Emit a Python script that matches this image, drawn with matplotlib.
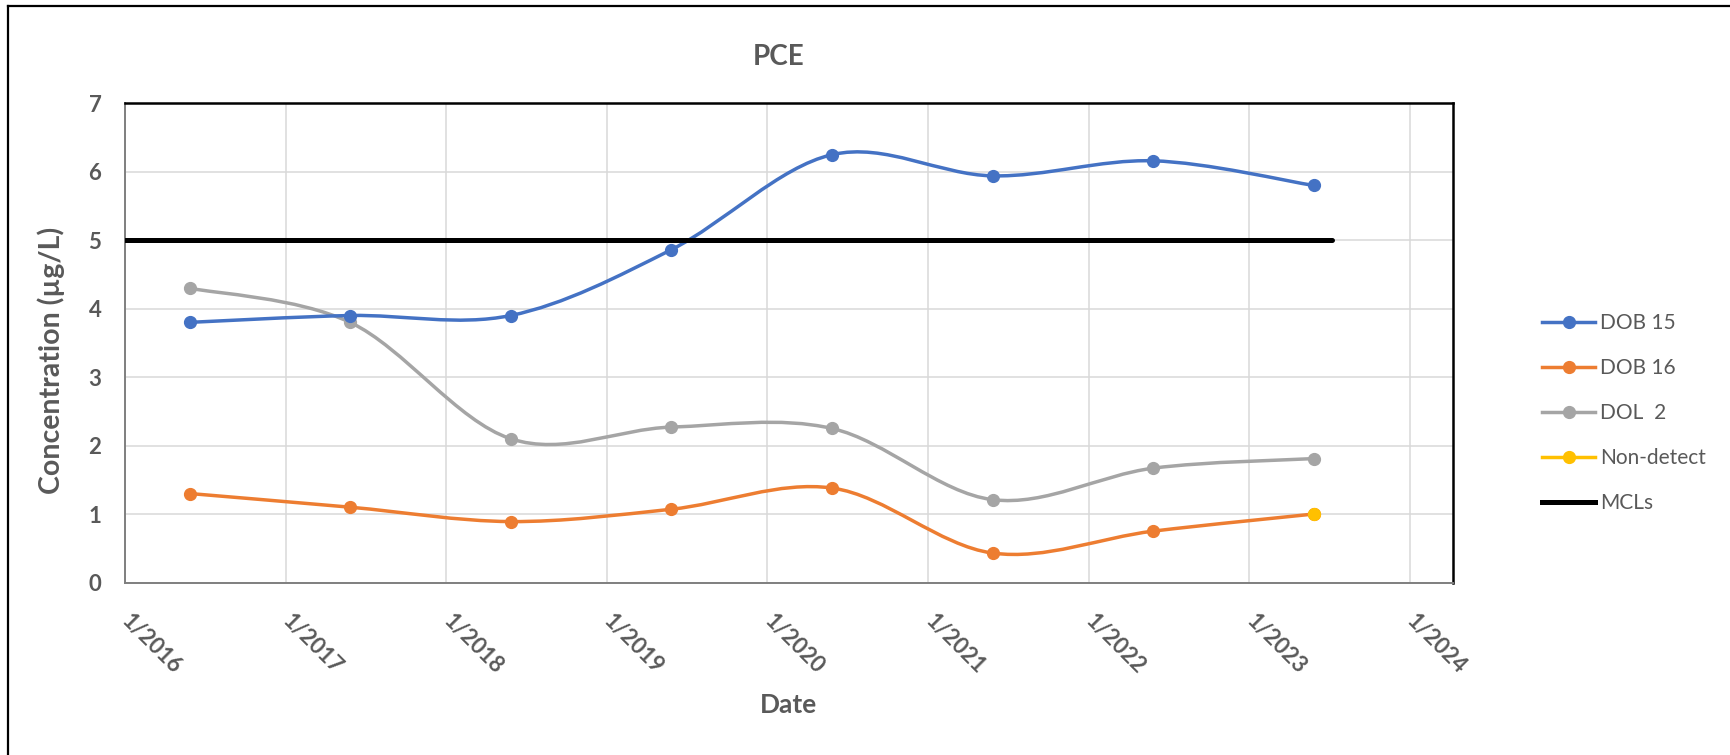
import matplotlib
matplotlib.use("Agg")
import matplotlib.pyplot as plt
import matplotlib.dates as mdates
from matplotlib.path import Path
from matplotlib.patches import PathPatch
from matplotlib.lines import Line2D
import numpy as np
import datetime as dt

# ---------------- data ----------------
sample_dates = ["2016-05-27", "2017-05-27", "2018-05-27", "2019-05-27",
                "2020-05-27", "2021-05-27", "2022-05-27", "2023-05-27"]
dob15 = [3.8, 3.9, 3.9, 4.86, 6.25, 5.94, 6.16, 5.8]
dob16 = [1.3, 1.1, 0.89, 1.07, 1.38, 0.43, 0.75, 1.0]
dol2 = [4.3, 3.8, 2.1, 2.27, 2.25, 1.21, 1.67, 1.81]
nondetect_dates = ["2023-05-27"]
nondetect = [1.0]
mcl_dates = ["2016-01-01", "2023-07-07"]
mcl = [5, 5]
series_names = ["DOB 15", "DOB 16", "DOL  2", "Non-detect", "MCLs"]
xtick_years = list(range(2016, 2025))
xtick_labels = [f"1/{y}" for y in xtick_years]
yticks = [0, 1, 2, 3, 4, 5, 6, 7]

# ---------------- style ----------------
plt.rcParams['font.family'] = ['Lato', 'DejaVu Sans']
TXT = "#595959"
C_BLUE, C_ORANGE, C_GRAY, C_YELLOW = "#4472C4", "#ED7D31", "#A5A5A5", "#FFC000"
W, H, DPI = 1730, 755, 100

fig = plt.figure(figsize=(W / DPI, H / DPI), dpi=DPI)
ax = fig.add_axes([125 / W, 1 - 582.5 / H, (1453 - 125) / W, (582.5 - 103.3) / H])


def to_num(ds):
    return mdates.date2num([dt.datetime.strptime(d, "%Y-%m-%d") for d in ds])


def smooth_path(x, y):
    """Excel-like smoothed line: cubic Bezier through the data points."""
    P = np.column_stack([x, y]).astype(float)
    n = len(P)
    verts = [P[0]]
    codes = [Path.MOVETO]
    for i in range(n - 1):
        p0 = P[i - 1] if i > 0 else P[i]
        p1, p2 = P[i], P[i + 1]
        p3 = P[i + 2] if i + 2 < n else P[i + 1]
        c1 = p1 + (p2 - p0) / 6.0
        c2 = p2 - (p3 - p1) / 6.0
        verts += [c1, c2, p2]
        codes += [Path.CURVE4] * 3
    return Path(verts, codes)


xd = to_num(sample_dates)
LW, MS = 2.5, 8.5
for vals, col in [(dol2, C_GRAY), (dob16, C_ORANGE), (dob15, C_BLUE)]:
    ax.add_patch(PathPatch(smooth_path(xd, vals), fill=False, edgecolor=col,
                           lw=LW, capstyle='round', joinstyle='round', zorder=3))
    ax.plot(xd, vals, 'o', color=col, ms=MS, zorder=4)

ax.plot(to_num(nondetect_dates), nondetect, 'o', color=C_YELLOW, ms=MS, zorder=5)
ax.plot(to_num(mcl_dates), mcl, '-', color='black', lw=3.6, zorder=3,
        solid_capstyle='round')

# axes
ax.set_xlim(mdates.date2num(dt.datetime(2016, 1, 1)),
            mdates.date2num(dt.datetime(2024, 4, 8)))
ax.set_ylim(0, 7)
ax.set_yticks(yticks)
ax.set_xticks(mdates.date2num([dt.datetime(y, 1, 1) for y in xtick_years]))
ax.set_xticklabels(xtick_labels)
ax.grid(True, color="#d9d9d9", lw=1.1)
ax.set_axisbelow(True)
ax.tick_params(axis='both', length=0, colors=TXT, labelsize=16)
ax.tick_params(axis='y', pad=17)
ax.tick_params(axis='x', pad=25)
for lab in ax.get_yticklabels():
    lab.set_fontweight('bold')
plt.setp(ax.get_xticklabels(), rotation=-45, ha='left', va='center',
         rotation_mode='anchor', fontweight='bold')

for s in ['top', 'right']:
    ax.spines[s].set_color('black')
    ax.spines[s].set_linewidth(1.8)
for s in ['left', 'bottom']:
    ax.spines[s].set_color('#7f7f7f')
    ax.spines[s].set_linewidth(1.4)

# texts
fig.text(779 / W, 1 - 57 / H, "PCE", ha='center', va='center',
         fontsize=20, fontweight='bold', color=TXT)
fig.text(789 / W, 1 - 705 / H, "Date", ha='center', va='center',
         fontsize=19, fontweight='bold', color=TXT)
fig.text(51 / W, 1 - 360 / H, "Concentration (µg/L)", ha='center', va='center',
         rotation=90, fontsize=20.5, fontweight='bold', color=TXT)

# legend
handles = [
    Line2D([], [], color=C_BLUE, lw=LW, marker='o', ms=MS),
    Line2D([], [], color=C_ORANGE, lw=LW, marker='o', ms=MS),
    Line2D([], [], color=C_GRAY, lw=LW, marker='o', ms=MS),
    Line2D([], [], color=C_YELLOW, lw=LW, marker='o', ms=MS),
    Line2D([], [], color='black', lw=3.6),
]
leg = fig.legend(handles, series_names, loc='upper left',
                 bbox_to_anchor=(1542 / W, 1 - 313 / H), bbox_transform=fig.transFigure,
                 frameon=False, fontsize=15, handlelength=2.55, handletextpad=0.25,
                 labelspacing=1.2, borderpad=0, borderaxespad=0)
for t in leg.get_texts():
    t.set_color(TXT)

# outer frame
fig.add_artist(Line2D([8 / W, 8 / W], [0, 1 - 6 / H], transform=fig.transFigure,
                      color='black', lw=1.6))
fig.add_artist(Line2D([8 / W, 1], [1 - 6 / H, 1 - 6 / H], transform=fig.transFigure,
                      color='black', lw=1.6))

fig.savefig("out.png", dpi=DPI)
